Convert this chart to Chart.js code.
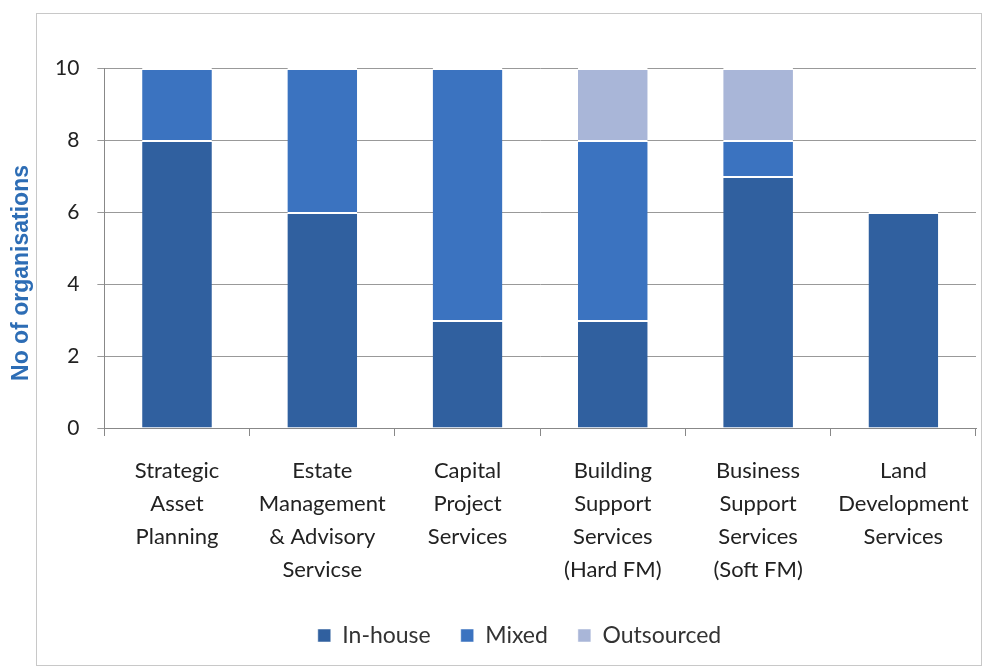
<!DOCTYPE html>
<html>
<head>
<meta charset="utf-8">
<script src="https://cdn.jsdelivr.net/npm/chart.js@4"></script>
<style>
  body { margin: 0; background: #fff; }
  #wrap { position: relative; width: 982px; height: 666px; }
  #frame { position: absolute; left: 36px; top: 13px; width: 946px; height: 653px; border: 1px solid #c8c8c8; box-sizing: border-box; pointer-events: none; }
</style>
</head>
<body>
<div id="wrap">
  <canvas id="myChart" width="982" height="666"></canvas>
  <div id="frame"></div>
</div>
<script>
var categories = [
    ["Strategic", "Asset", "Planning"],
    ["Estate", "Management", "& Advisory", "Servicse"],
    ["Capital", "Project", "Services"],
    ["Building", "Support", "Services", "(Hard FM)"],
    ["Business", "Support", "Services", "(Soft FM)"],
    ["Land", "Development", "Services"]
];
var inHouse = [8, 6, 3, 3, 7, 6];
var mixed = [2, 4, 7, 5, 1, 0];
var outsourced = [0, 0, 0, 2, 2, 0];
var yTicks = [0, 2, 4, 6, 8, 10];
var yTitle = 'No of organisations';

// y title sits a bit below the plot centre in the original, so draw it by hand
var yTitlePlugin = {
    id: 'yTitle',
    afterLayout: function (chart) {
        // legend in the original is centred slightly right of the canvas centre
        chart.legend.left += 13;
        chart.legend.right += 13;
    },
    afterDraw: function (chart) {
        var c = chart.ctx;
        c.save();
        c.translate(22, 273);
        c.rotate(-Math.PI / 2);
        c.font = 'bold 23px "Liberation Sans", Arial, sans-serif';
        c.fillStyle = '#2d6db5';
        c.textAlign = 'center';
        c.textBaseline = 'middle';
        c.fillText(yTitle, 0, 0);
        c.restore();
    }
};

function makeChart() {
    var ctx = document.getElementById("myChart");
    var barStyle = {
        borderColor: '#ffffff',
        borderWidth: { top: 2, left: 0, right: 0, bottom: 0 },
        borderSkipped: false,
        barPercentage: 0.48,
        categoryPercentage: 1
    };
    var myChart = new Chart(ctx, {
        type: 'bar',
        data: {
            labels: categories,
            datasets: [
                Object.assign({ label: 'In-house', data: inHouse, backgroundColor: '#30609f' }, barStyle),
                Object.assign({ label: 'Mixed', data: mixed, backgroundColor: '#3b73c0' }, barStyle),
                Object.assign({ label: 'Outsourced', data: outsourced, backgroundColor: '#a9b6d8' }, barStyle)
            ]
        },
        plugins: [yTitlePlugin],
        options: {
            responsive: false,
            animation: false,
            layout: { padding: { top: 68, left: 37, right: 6, bottom: 9 } },
            plugins: {
                tooltip: { enabled: false },
                legend: {
                    position: 'bottom',
                    labels: {
                        usePointStyle: true,
                        pointStyle: 'rect',
                        boxWidth: 13,
                        boxHeight: 13,
                        padding: 30,
                        color: '#333',
                        font: { family: 'Lato, "Open Sans", sans-serif', size: 23 }
                    }
                }
            },
            scales: {
                x: {
                    stacked: true,
                    afterFit: function (scale) {
                        scale.height -= 10;
                        scale.paddingRight = 0;
                    },
                    grid: { display: true, drawOnChartArea: false, color: '#888', tickLength: 8 },
                    border: { color: '#888' },
                    ticks: {
                        color: '#222',
                        padding: 18,
                        maxRotation: 0,
                        font: { family: 'Lato, "Open Sans", sans-serif', size: 22, lineHeight: 1.5 }
                    }
                },
                y: {
                    stacked: true,
                    min: 0,
                    max: 10,
                    afterBuildTicks: function (axis) {
                        axis.ticks = yTicks.map(function (v) { return { value: v }; });
                    },
                    grid: { color: '#999', tickLength: 7 },
                    border: { color: '#888' },
                    ticks: {
                        color: '#222',
                        padding: 18,
                        font: { family: 'Lato, "Open Sans", sans-serif', size: 21 }
                    }
                }
            }
        }
    });
}

makeChart();
</script>
</body>
</html>
